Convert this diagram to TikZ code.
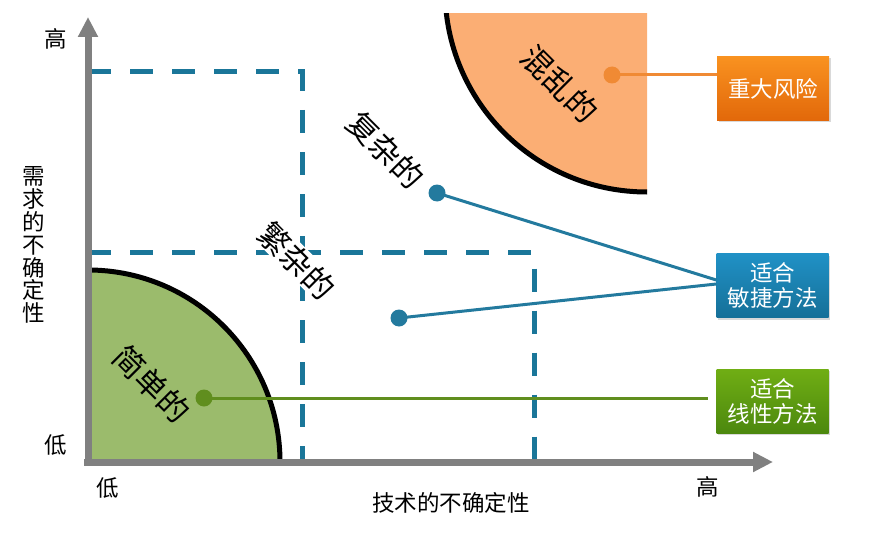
\documentclass[tikz,border=0pt]{standalone}
\usepackage{fontspec}
\setmainfont{Noto Sans CJK SC}
\usetikzlibrary{arrows.meta,shadows}

\definecolor{axisgray}{RGB}{128,128,128}
\definecolor{dashblue}{RGB}{26,118,153}
\definecolor{linkblue}{RGB}{35,122,158}
\definecolor{simplefill}{RGB}{155,187,108}
\definecolor{simpleedge}{RGB}{112,142,58}
\definecolor{chaosfill}{RGB}{251,174,116}
\definecolor{linkorange}{RGB}{240,138,52}
\definecolor{linkgreen}{RGB}{96,142,30}

\tikzset{
  axisline/.style={draw=axisgray, line width=7pt, -{Triangle[length=20pt,width=19pt]}},
  zoneline/.style={draw=dashblue, line width=5pt, dash pattern=on 23pt off 19pt},
  arcline/.style={draw=black, line width=5pt},
  zonelabel/.style={font=\fontsize{31}{31}\selectfont, rotate=-45, inner sep=1pt},
  axislabel/.style={font=\fontsize{22.5}{22.5}\selectfont, inner sep=0pt},
  dotmark/.style={circle, minimum size=17pt, inner sep=0pt},
  tagbox/.style={minimum width=112pt, minimum height=64pt, inner sep=0pt, align=center,
    text=white, font=\fontsize{22.5}{25}\selectfont,
    drop shadow={opacity=0.3, shadow xshift=1.5pt, shadow yshift=-2pt}},
  link/.style={line width=3pt}
}

\begin{document}
\begin{tikzpicture}[x=1pt,y=1pt]
\useasboundingbox (0,0) rectangle (890,550);

% low-uncertainty zone: green quarter disc at the origin
\fill[simplefill] (88,88) -- (280,88) arc[start angle=0, end angle=90, radius=192] -- cycle;
\draw[simpleedge, line width=3pt] (88,280) -- (88,88) -- (280,88);
\draw[arcline] (280,88) arc[start angle=0, end angle=90, radius=192];

% high-uncertainty zone: orange disc cut by the frame corner
\begin{scope}
  \clip (420,330) rectangle (647,536);
  \fill[chaosfill] (647,560) circle[radius=202];
  \draw[arcline] (647,560) circle[radius=202];
\end{scope}

% dashed zone boundaries
\draw[zoneline] (88,478) -- (302,478) -- (302,88);
\draw[zoneline] (88,297.5) -- (534,297.5) -- (534,88);

% axes
\draw[axisline] (88,84) -- (88,533);
\draw[axisline] (84,88) -- (773,88);

% axis labels
\node[axislabel] (yhigh) at (56,511) {高};
\node[axislabel] (ylow) at (56,105) {低};
\node[axislabel] (xlow) at (108,62) {低};
\node[axislabel] (xhigh) at (708,63) {高};
\node[axislabel] (xtitle) at (451,47.5) {技术的不确定性};
\node[axislabel, font=\fontsize{22.5}{22.9}\selectfont, align=center] (ytitle) at (34,305)
  {需\\求\\的\\不\\确\\定\\性};

% zone labels
\node[zonelabel] (simple) at (152,166) {简单的};
\node[zonelabel, fill=white] (complicated) at (297,289) {繁杂的};
\node[zonelabel] (complex) at (386,400) {复杂的};
\node[zonelabel] (chaotic) at (560,466) {混乱的};

% tag boxes
\node[tagbox, top color={rgb,255:red,249;green,146;blue,32}, bottom color={rgb,255:red,226;green,104;blue,10}]
  (risk) at (773,461.5) {重大风险};
\node[tagbox, top color={rgb,255:red,32;green,145;blue,198}, bottom color={rgb,255:red,22;green,112;blue,152}]
  (agile) at (772.5,264.5) {适合\\敏捷方法};
\node[tagbox, top color={rgb,255:red,112;green,174;blue,20}, bottom color={rgb,255:red,76;green,136;blue,14}]
  (linear) at (772.5,149) {适合\\线性方法};

% markers and their connectors
\node[dotmark, fill=linkorange] (dchaos) at (612,475) {};
\node[dotmark, fill=linkblue] (dcomplex) at (437,357) {};
\node[dotmark, fill=linkblue] (dcomplicated) at (399,232) {};
\node[dotmark, fill=linkgreen] (dsimple) at (204,152) {};
\coordinate (simpleend) at (708,152);

\draw[link, linkorange] (dchaos.center) -- (risk.west |- dchaos.center);
\draw[link, linkblue] (dcomplex.center) -- ([yshift=5.5pt]agile.west);
\draw[link, linkblue] (dcomplicated.center) -- ([yshift=1.5pt]agile.west);
\draw[link, linkgreen] (dsimple.center) -- (simpleend);
\end{tikzpicture}
\end{document}
